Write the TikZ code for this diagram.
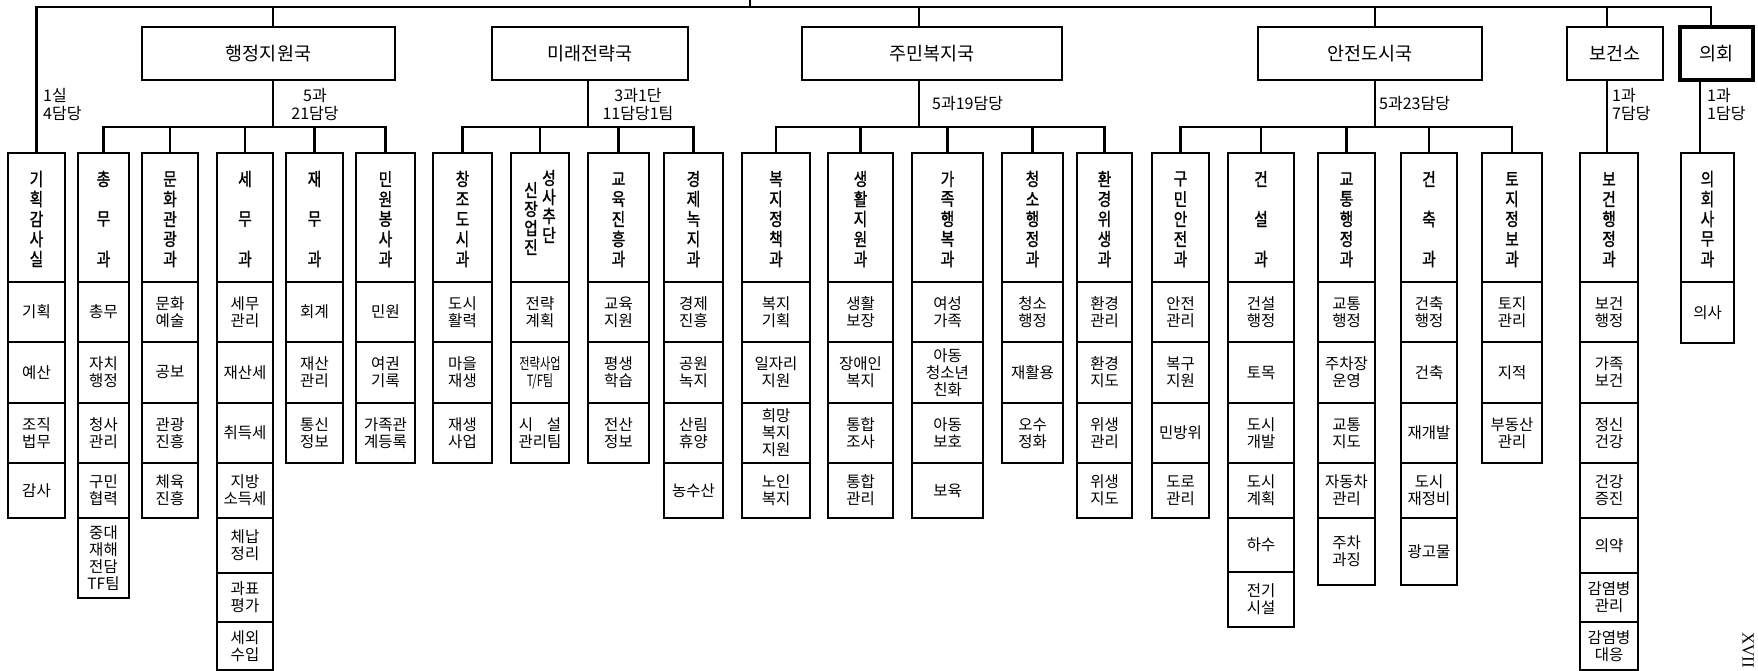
\documentclass[tikz,border=0pt]{standalone}
\usepackage{fontspec}
\usepackage{graphicx}
\setmainfont{Noto Sans CJK KR}
\newfontfamily\hdf{Noto Sans CJK KR}[FakeStretch=0.82,FakeBold=1.2]
\newfontfamily\romf{Liberation Serif}
\newcommand\cellfont{\fontsize{15.5}{17}\selectfont}
\newcommand\burfont{\fontsize{18.5}{20}\selectfont}
\newcommand\labfont{\fontsize{16}{18}\selectfont}
\newcommand\hdfont{\hdf\fontsize{18}{20}\selectfont}
\tikzset{
  cell/.style={draw, line width=2.6pt, inner sep=0pt, align=center, font=\cellfont},
  hbox/.style={draw, line width=2.6pt, inner sep=0pt},
  bur/.style={draw, line width=2.6pt, inner sep=0pt, font=\burfont},
  conn/.style={line width=2.6pt, line cap=rect},
  lab/.style={inner sep=0pt, align=left, font=\labfont},
  hch/.style={inner sep=0pt, font=\hdfont}
}
% header box with vertical characters
\newcommand\mkhead[5]{%
  \pgfmathsetmacro\hxx{(#2+#3)/2}
  \node[hbox, minimum width={#3-#2}, minimum height=129] (#1) at (\hxx,217.5) {};
  \foreach \chr [count=\i] in {#5} {
    \pgfmathsetmacro\yy{179+(\i-1)*80/(#4-1)}
    \node[hch] (#1-\i) at (\hxx,\yy) {\chr};
  }}
% column of cells
\newcommand\mkcol[4]{%
  \foreach \bb/\txt [count=\i, remember=\bb as \pb (initially 282)] in {#4} {
    \pgfmathsetmacro\cx{(#2+#3)/2}
    \pgfmathsetmacro\cy{(\pb+\bb)/2}
    \pgfmathsetmacro\hh{\bb-\pb}
    \node[cell, minimum width={#3-#2}, minimum height=\hh] (#1-\i) at (\cx,\cy) {\txt};
  }}
\begin{document}
\begin{tikzpicture}[x=1pt,y=-1pt]
\useasboundingbox (0,0) rectangle (1758,671);
\fill[white] (0,0) rectangle (1758,671);

% bureaus
\node[bur, minimum width=253, minimum height=53] (b1) at (268.5,53.5) {행정지원국};
\node[bur, minimum width=196, minimum height=53] (b2) at (590,53.5) {미래전략국};
\node[bur, minimum width=260, minimum height=53] (b3) at (932,53.5) {주민복지국};
\node[bur, minimum width=224, minimum height=53] (b4) at (1370,53.5) {안전도시국};
\node[bur, minimum width=96, minimum height=53] (b5) at (1615,53.5) {보건소};
\node[bur, line width=3.6pt, minimum width=73, minimum height=53] (b6) at (1716.5,53.5) {의회};

% department headers
\mkhead{h1}{8}{65}{5}{기,획,감,사,실}
\mkhead{h2}{78}{129}{3}{총,무,과}
\mkhead{h3}{142}{198}{5}{문,화,관,광,과}
\mkhead{h4}{217}{273}{3}{세,무,과}
\mkhead{h5}{286}{343}{3}{재,무,과}
\mkhead{h6}{356}{415}{5}{민,원,봉,사,과}
\mkhead{h7}{433}{492}{5}{창,조,도,시,과}
\node[hbox, minimum width=58, minimum height=129] (h8) at (540,217.5) {};
\foreach \chr [count=\i] in {신,장,업,진} {
  \pgfmathsetmacro\yy{190+(\i-1)*19}
  \node[hch] (h8-l\i) at (531,\yy) {\chr};
}
\foreach \chr [count=\i] in {성,사,추,단} {
  \pgfmathsetmacro\yy{178+(\i-1)*19}
  \node[hch] (h8-r\i) at (549,\yy) {\chr};
}
\mkhead{h9}{588}{649}{5}{교,육,진,흥,과}
\mkhead{h10}{664}{723}{5}{경,제,녹,지,과}
\mkhead{h11}{742}{810}{5}{복,지,정,책,과}
\mkhead{h12}{828}{893}{5}{생,활,지,원,과}
\mkhead{h13}{912}{983}{5}{가,족,행,복,과}
\mkhead{h14}{1002}{1063}{5}{청,소,행,정,과}
\mkhead{h15}{1077}{1132}{5}{환,경,위,생,과}
\mkhead{h16}{1152}{1209}{5}{구,민,안,전,과}
\mkhead{h17}{1228}{1294}{3}{건,설,과}
\mkhead{h18}{1318}{1375}{5}{교,통,행,정,과}
\mkhead{h19}{1401}{1457}{3}{건,축,과}
\mkhead{h20}{1482}{1542}{5}{토,지,정,보,과}
\mkhead{h21}{1580}{1638}{5}{보,건,행,정,과}
\mkhead{h22}{1681}{1734}{5}{의,회,사,무,과}

% cells
\mkcol{c1}{8}{65}{342/{기획},403/{예산},463/{조직\\법무},518/{감사}}
\mkcol{c2}{78}{129}{342/{총무},403/{자치\\행정},463/{청사\\관리},518/{구민\\협력},598/{중대\\재해\\전담\\TF팀}}
\mkcol{c3}{142}{198}{342/{문화\\예술},403/{공보},463/{관광\\진흥},518/{체육\\진흥}}
\mkcol{c4}{217}{273}{342/{세무\\관리},403/{재산세},463/{취득세},518/{지방\\소득세},573/{체납\\정리},622/{과표\\평가},670/{세외\\수입}}
\mkcol{c5}{286}{343}{342/{회계},403/{재산\\관리},463/{통신\\정보}}
\mkcol{c6}{356}{415}{342/{민원},403/{여권\\기록},463/{가족관\\계등록}}
\mkcol{c7}{433}{492}{342/{도시\\활력},403/{마을\\재생},463/{재생\\사업}}
\mkcol{c8}{511}{569}{342/{전략\\계획},403/{\scalebox{0.72}[1]{전략사업}\\\scalebox{0.72}[1]{T/F팀}},463/{시\hspace{0.9em}설\\관리팀}}
\mkcol{c9}{588}{649}{342/{교육\\지원},403/{평생\\학습},463/{전산\\정보}}
\mkcol{c10}{664}{723}{342/{경제\\진흥},403/{공원\\녹지},463/{산림\\휴양},518/{농수산}}
\mkcol{c11}{742}{810}{342/{복지\\기획},403/{일자리\\지원},463/{희망\\복지\\지원},518/{노인\\복지}}
\mkcol{c12}{828}{893}{342/{생활\\보장},403/{장애인\\복지},463/{통합\\조사},518/{통합\\관리}}
\mkcol{c13}{912}{983}{342/{여성\\가족},403/{아동\\청소년\\친화},463/{아동\\보호},518/{보육}}
\mkcol{c14}{1002}{1063}{342/{청소\\행정},403/{재활용},463/{오수\\정화}}
\mkcol{c15}{1077}{1132}{342/{환경\\관리},403/{환경\\지도},463/{위생\\관리},518/{위생\\지도}}
\mkcol{c16}{1152}{1209}{342/{안전\\관리},403/{복구\\지원},463/{민방위},518/{도로\\관리}}
\mkcol{c17}{1228}{1294}{342/{건설\\행정},403/{토목},463/{도시\\개발},518/{도시\\계획},572/{하수},627/{전기\\시설}}
\mkcol{c18}{1318}{1375}{342/{교통\\행정},403/{주차장\\운영},463/{교통\\지도},518/{자동차\\관리},585/{주차\\과징}}
\mkcol{c19}{1401}{1457}{342/{건축\\행정},403/{건축},463/{재개발},518/{도시\\재정비},585/{광고물}}
\mkcol{c20}{1482}{1542}{342/{토지\\관리},403/{지적},463/{부동산\\관리}}
\mkcol{c21}{1580}{1638}{342/{보건\\행정},403/{가족\\보건},463/{정신\\건강},518/{건강\\증진},573/{의약},622/{감염병\\관리},670/{감염병\\대응}}
\mkcol{c22}{1681}{1734}{343/{의사}}

% connectors
\coordinate (mayor) at (750,0);
\coordinate (topR) at (1711,7);
\draw[conn] (h1.north |- topR) -- (topR);
\draw[conn] (mayor) -- (mayor |- topR);
\draw[conn] (h1.north |- topR) -- (h1.north);
\coordinate (t1) at (273,7);
\coordinate (t3) at (919,7);
\coordinate (t4) at (1375,7);
\coordinate (t5) at (1607,7);
\draw[conn] (t1) -- (t1 |- b1.north);
\draw[conn] (t3) -- (t3 |- b3.north);
\draw[conn] (t4) -- (t4 |- b4.north);
\draw[conn] (t5) -- (t5 |- b5.north);
\draw[conn] (topR) -- (topR |- b6.north);

\coordinate (br1) at (273,127);
\coordinate (br2) at (588,127);
\coordinate (br3) at (919,127);
\coordinate (br4) at (1375,127);
\draw[conn] (br1 |- b1.south) -- (br1);
\draw[conn] (br2 |- b2.south) -- (br2);
\draw[conn] (br3 |- b3.south) -- (br3);
\draw[conn] (br4 |- b4.south) -- (br4);
\draw[conn] (h2.north |- br1) -- (h6.north |- br1);
\draw[conn] (h7.north |- br2) -- (h10.north |- br2);
\draw[conn] (h11.north |- br3) -- (h15.north |- br3);
\draw[conn] (h16.north |- br4) -- (h20.north |- br4);
\foreach \h in {h2,h3,h4,h5,h6} \draw[conn] (\h.north |- br1) -- (\h.north);
\foreach \h in {h7,h8,h9,h10} \draw[conn] (\h.north |- br2) -- (\h.north);
\foreach \h in {h11,h12,h13,h14,h15} \draw[conn] (\h.north |- br3) -- (\h.north);
\foreach \h in {h16,h17,h18,h19,h20} \draw[conn] (\h.north |- br4) -- (\h.north);
\coordinate (d5) at (1607,153);
\coordinate (d6) at (1700,153);
\draw[conn] (d5 |- b5.south) -- (d5);
\draw[conn] (d6 |- b6.south) -- (d6);

% labels
\node[lab, anchor=west] (l1) at (43,104) {1실\\4담당};
\node[lab, align=center] (l2) at (315,104) {5과\\21담당};
\node[lab, align=center] (l3) at (638,104) {3과1단\\11담당1팀};
\node[lab, anchor=west] (l4) at (932,104) {5과19담당};
\node[lab, anchor=west] (l5) at (1379,104) {5과23담당};
\node[lab, anchor=west] (l6) at (1612,104) {1과\\7담당};
\node[lab, anchor=west] (l7) at (1707,104) {1과\\1담당};

\node[inner sep=0pt, rotate=-90, font=\romf\fontsize{17}{18}\selectfont] (pg) at (1748,650) {XVII};
\end{tikzpicture}
\end{document}
